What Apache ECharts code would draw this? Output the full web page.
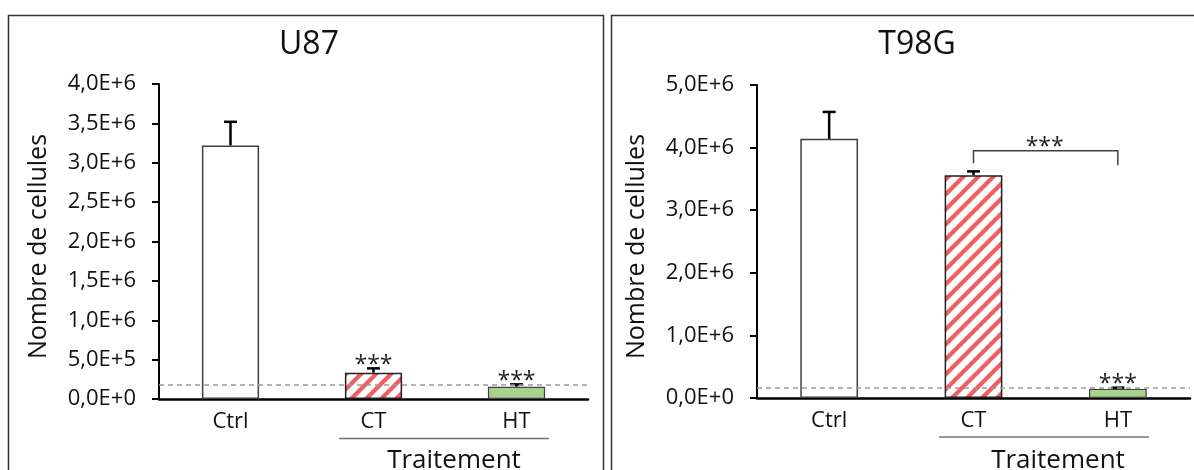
<!DOCTYPE html>
<html>
<head>
<meta charset="utf-8">
<script src="https://cdn.jsdelivr.net/npm/echarts@6/dist/echarts.min.js"></script>
<style>
html,body{margin:0;padding:0;background:#fff;}
#chart{width:1194px;height:470px;}
</style>
</head>
<body>
<div id="chart"></div>
<script>
// ---- data ----
const categories = ['Ctrl', 'CT', 'HT'];
const u87Means = [3.22e6, 0.334e6, 0.156e6];
const u87Errors = [0.30e6, 0.055e6, 0.03e6];
const u87Stars = ['', '***', '***'];
const u87Threshold = 0.185e6;
const u87Ticks = ['0,0E+0', '5,0E+5', '1,0E+6', '1,5E+6', '2,0E+6', '2,5E+6', '3,0E+6', '3,5E+6', '4,0E+6'];

const t98Means = [4.14e6, 3.56e6, 0.145e6];
const t98Errors = [0.43e6, 0.06e6, 0.02e6];
const t98Stars = ['', '', '***'];
const t98Threshold = 0.17e6;
const t98Ticks = ['0,0E+0', '1,0E+6', '2,0E+6', '3,0E+6', '4,0E+6', '5,0E+6'];
// bracket: [fromCategory, toCategory, topValue, leftEndValue, rightEndValue, label]
const t98Bracket = [[1, 2, 3.95e6, 3.75e6, 3.72e6, '***']];

const titles = ['U87', 'T98G'];
const yName = 'Nombre de cellules';
const groupName = 'Traitement';

// ---- styles ----
const FONT = '"Open Sans", "Noto Sans", sans-serif';
const TXT = '#111';

function hatch() {
  const s = 15;
  const c = document.createElement('canvas');
  c.width = s; c.height = s;
  const g = c.getContext('2d');
  g.fillStyle = '#ffffff';
  g.fillRect(0, 0, s, s);
  g.strokeStyle = '#EF5F5F';
  g.lineWidth = 4.2;
  for (const o of [-s, 0, s]) {
    g.beginPath();
    g.moveTo(o - 2, s + 2);
    g.lineTo(o + s + 2, -2);
    g.stroke();
  }
  return c;
}
const hatchFill = { image: hatch(), repeat: 'repeat' };
const barStyles = [
  { color: '#ffffff', borderColor: '#404040', borderWidth: 1.5 },
  { color: hatchFill, borderColor: '#222222', borderWidth: 1.5 },
  { color: '#A9D18E', borderColor: '#404040', borderWidth: 1.2 }
];

function barData(means) {
  return means.map((v, i) => ({ value: v, itemStyle: barStyles[i] }));
}
function errData(means, errs) {
  return means.map((v, i) => [i, v, errs[i]]);
}
const categoriesStars = { errU87: u87Stars, errT98: t98Stars };

function errRender(params, api) {
  const x = api.value(0), m = api.value(1), e = api.value(2);
  const star = categoriesStars[params.seriesId][params.dataIndex];
  const p0 = api.coord([x, m]);
  const p1 = api.coord([x, m + e]);
  const children = [
    { type: 'line', shape: { x1: p0[0], y1: p0[1], x2: p1[0], y2: p1[1] }, style: { stroke: '#000', lineWidth: 2.5 } },
    { type: 'line', shape: { x1: p1[0] - 6.5, y1: p1[1], x2: p1[0] + 6.5, y2: p1[1] }, style: { stroke: '#000', lineWidth: 2.5 } }
  ];
  if (star) {
    children.push({ type: 'text', style: { text: star, x: p1[0], y: p1[1] - 3, align: 'center', verticalAlign: 'middle', font: '23px ' + FONT, fill: '#222' } });
  }
  return { type: 'group', children };
}

function bracketRender(params, api) {
  const a = api.value(0), b = api.value(1), top = api.value(2), la = api.value(3), rb = api.value(4);
  const label = t98Bracket[params.dataIndex][5];
  const pA = api.coord([a, la]), pAt = api.coord([a, top]);
  const pB = api.coord([b, rb]), pBt = api.coord([b, top]);
  return {
    type: 'group', children: [
      { type: 'polyline', shape: { points: [pA, pAt, pBt, pB] }, style: { stroke: '#404040', lineWidth: 1.5, fill: null } },
      { type: 'text', style: { text: label, x: (pAt[0] + pBt[0]) / 2 - 1, y: pAt[1] - 3, align: 'center', verticalAlign: 'middle', font: '23px ' + FONT, fill: '#222' } }
    ]
  };
}

function yAxis(gridIndex, max, interval, ticks) {
  return {
    type: 'value', gridIndex, min: 0, max, interval,
    name: yName, nameLocation: 'middle', nameGap: 108,
    nameTextStyle: { fontFamily: FONT, fontSize: 25, color: TXT, padding: [0, 10, 0, 0] },
    splitLine: { show: false },
    axisLine: { show: true, lineStyle: { color: '#000', width: 2 } },
    axisTick: { show: true, length: 7, lineStyle: { color: '#000', width: 2 } },
    axisLabel: { margin: 23, fontFamily: FONT, fontSize: 22, color: TXT,
      formatter: (v) => ticks[Math.round(v / interval)] }
  };
}
function xAxis(gridIndex) {
  return {
    type: 'category', gridIndex, data: categories,
    axisLine: { show: true, lineStyle: { color: '#000', width: 2.5 } },
    axisTick: { show: false },
    axisLabel: { margin: 12, fontFamily: FONT, fontSize: 22, color: TXT }
  };
}
function thresholdLine(v) {
  return {
    silent: true, symbol: 'none', label: { show: false },
    lineStyle: { color: '#9a9a9a', type: [5, 4], width: 1.5 },
    data: [{ yAxis: v }]
  };
}

const chart = echarts.init(document.getElementById('chart'), null, { renderer: 'canvas' });
chart.setOption({
  animation: false,
  backgroundColor: '#ffffff',
  grid: [
    { left: 159, top: 84, width: 429, height: 315 },
    { left: 757, top: 85, width: 433, height: 313 }
  ],
  xAxis: [xAxis(0), xAxis(1)],
  yAxis: [yAxis(0, 4e6, 5e5, u87Ticks), yAxis(1, 5e6, 1e6, t98Ticks)],
  series: [
    { type: 'bar', xAxisIndex: 0, yAxisIndex: 0, barWidth: '40%', data: barData(u87Means), markLine: thresholdLine(u87Threshold), z: 2 },
    { type: 'custom', id: 'errU87', xAxisIndex: 0, yAxisIndex: 0, renderItem: errRender, data: errData(u87Means, u87Errors), z: 3 },
    { type: 'bar', xAxisIndex: 1, yAxisIndex: 1, barWidth: '40%', data: barData(t98Means), markLine: thresholdLine(t98Threshold), z: 2 },
    { type: 'custom', id: 'errT98', xAxisIndex: 1, yAxisIndex: 1, renderItem: errRender, data: errData(t98Means, t98Errors), z: 3 },
    { type: 'custom', xAxisIndex: 1, yAxisIndex: 1, renderItem: bracketRender, data: t98Bracket.map(d => d.slice(0, 5)), z: 3 }
  ],
  graphic: [
    { type: 'rect', shape: { x: 8.5, y: 15.5, width: 595, height: 520 }, style: { fill: null, stroke: '#333', lineWidth: 1.5 }, silent: true },
    { type: 'rect', shape: { x: 611.5, y: 15.5, width: 620, height: 520 }, style: { fill: null, stroke: '#333', lineWidth: 1.5 }, silent: true },
    { type: 'text', style: { text: titles[0], x: 309, y: 45, align: 'center', verticalAlign: 'middle', font: '32px ' + FONT, fill: TXT } },
    { type: 'text', style: { text: titles[1], x: 917, y: 45, align: 'center', verticalAlign: 'middle', font: '32px ' + FONT, fill: TXT } },
    { type: 'line', shape: { x1: 339, y1: 438.5, x2: 549, y2: 438.5 }, style: { stroke: '#707070', lineWidth: 1.5 } },
    { type: 'line', shape: { x1: 939, y1: 437, x2: 1149, y2: 437 }, style: { stroke: '#707070', lineWidth: 1.5 } },
    { type: 'text', style: { text: groupName, x: 454, y: 461, align: 'center', verticalAlign: 'middle', font: '26px ' + FONT, fill: TXT } },
    { type: 'text', style: { text: groupName, x: 1058, y: 461, align: 'center', verticalAlign: 'middle', font: '26px ' + FONT, fill: TXT } }
  ]
});
</script>
</body>
</html>
